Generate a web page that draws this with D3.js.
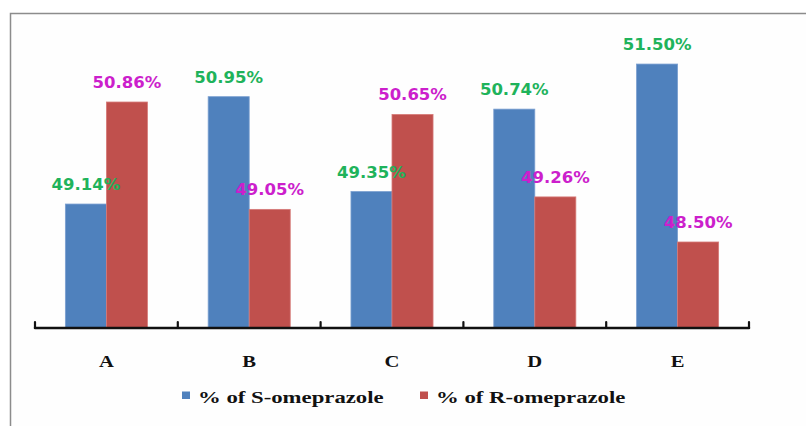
<!DOCTYPE html>
<html>
<head>
<meta charset="utf-8">
<script src="https://cdn.jsdelivr.net/npm/d3@7/dist/d3.min.js"></script>
<style>
  html, body { margin: 0; padding: 0; background: #ffffff; }
  svg { display: block; }
</style>
</head>
<body>
<svg id="chart" width="806" height="426"></svg>
<script>
const categories = ["A", "B", "C", "D", "E"];
const seriesNames = ["% of S-omeprazole", "% of R-omeprazole"];
const sValues = [49.14, 50.95, 49.35, 50.74, 51.50];
const rValues = [50.86, 49.05, 50.65, 49.26, 48.50];
const valueLabels = [["49.14%", "50.95%", "49.35%", "50.74%", "51.50%"],
                     ["50.86%", "49.05%", "50.65%", "49.26%", "48.50%"]];
const seriesColors = ["#4f81bd", "#c0504d"];
const labelColors = ["#1fb35b", "#cc1fcc"];

const svg = d3.select("#chart");
const W = 806, H = 426;

// frame
svg.append("rect").attr("x", 0).attr("y", 0).attr("width", W).attr("height", H).attr("fill", "#ffffff");
svg.append("rect").attr("x", 10.5).attr("y", 13.5).attr("width", W + 10).attr("height", H + 10)
  .attr("fill", "#fefefe").attr("stroke", "#8c8c8c").attr("stroke-width", 1.5);

const x0 = d3.scaleBand().domain(categories).range([35, 749]).padding(0);
const x1 = d3.scaleBand().domain([0, 1]).range([0, x0.bandwidth()]).paddingInner(0).paddingOuter(0.74);
const y = d3.scaleLinear().domain([47.05, 52]).range([328, 34.4]);

const data = categories.map((c, i) => ({ cat: c, vals: [sValues[i], rValues[i]] }));

const g = svg.append("g");
const groups = g.selectAll("g.cat").data(data).join("g")
  .attr("transform", d => `translate(${x0(d.cat)},0)`);

groups.selectAll("rect").data(d => d.vals.map((v, k) => ({ v, k }))).join("rect")
  .attr("x", d => x1(d.k))
  .attr("y", d => y(d.v))
  .attr("width", x1.bandwidth())
  .attr("height", d => y.range()[0] - y(d.v))
  .attr("fill", d => seriesColors[d.k])
  .attr("stroke", d => d.k === 0 ? "#7a9fd0" : "#d67a78")
  .attr("stroke-width", 0.8);

groups.selectAll("text.val").data((d, i) => d.vals.map((v, k) => ({ v, k, i }))).join("text")
  .attr("class", "val")
  .attr("x", d => x1(d.k) + x1.bandwidth() / 2)
  .attr("y", d => y(d.v) - 14)
  .attr("text-anchor", "middle")
  .attr("font-family", "DejaVu Sans, Verdana, sans-serif")
  .attr("font-weight", "bold")
  .attr("font-size", 16.5)
  .attr("fill", d => labelColors[d.k])
  .text(d => valueLabels[d.k][d.i]);

// axis
const axisY = y.range()[0];
const axis = d3.axisBottom(x0).tickSize(0).tickFormat("");
const axG = svg.append("g").attr("transform", `translate(0,${axisY})`).call(axis);
axG.select(".domain").remove();
const bounds = [x0.range()[0]].concat(categories.map(c => x0(c) + x0.bandwidth()));
axG.append("line").attr("x1", bounds[0]).attr("x2", bounds[bounds.length - 1])
  .attr("y1", 0).attr("y2", 0).attr("stroke", "#111").attr("stroke-width", 2.5).attr("stroke-linecap", "round");
axG.selectAll("line.tk").data(bounds).join("line").attr("class", "tk")
  .attr("x1", d => d).attr("x2", d => d).attr("y1", 0).attr("y2", -6)
  .attr("stroke", "#111").attr("stroke-width", 2.2).attr("stroke-linecap", "round");

// category labels
svg.append("g").selectAll("text.cat").data(categories).join("text")
  .attr("class", "cat")
  .attr("transform", d => `translate(${x0(d) + x0.bandwidth() / 2},366.5) scale(1.25,1)`)
  .attr("text-anchor", "middle")
  .attr("font-family", "Liberation Serif, Times New Roman, serif")
  .attr("font-weight", "bold")
  .attr("font-size", 16.5)
  .attr("fill", "#111")
  .text(d => d);

// legend
const legendX = [182, 420];
const lg = svg.append("g");
seriesNames.forEach((name, k) => {
  lg.append("rect").attr("x", legendX[k]).attr("y", 391.5).attr("width", 8).attr("height", 7.5)
    .attr("fill", seriesColors[k]);
  lg.append("text")
    .attr("transform", `translate(${legendX[k] + 16},403) scale(1.3,1)`)
    .attr("font-family", "Liberation Serif, Times New Roman, serif")
    .attr("font-weight", "bold")
    .attr("font-size", 17.5)
    .attr("fill", "#111")
    .text(name);
});
</script>
</body>
</html>
